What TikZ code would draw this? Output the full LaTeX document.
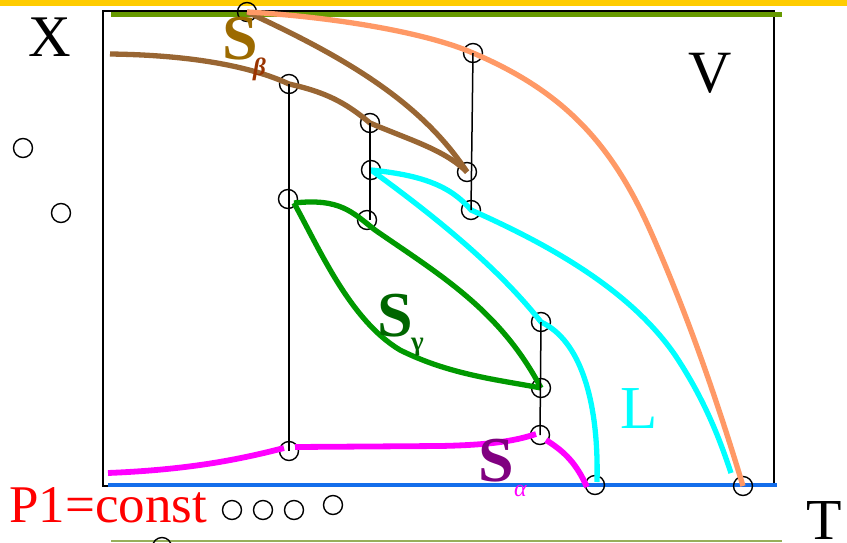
\documentclass[tikz,border=0pt]{standalone}
\usepackage{fontspec}
\setmainfont{Liberation Serif}
\definecolor{topyellow}{RGB}{255,204,0}
\definecolor{olv}{HTML}{669900}
\definecolor{olvlight}{RGB}{150,175,90}
\definecolor{bluel}{RGB}{20,110,235}
\definecolor{brw}{HTML}{996633}
\definecolor{salm}{HTML}{FF9966}
\definecolor{cyn}{HTML}{00FFFF}
\definecolor{grn}{HTML}{009900}
\definecolor{mag}{HTML}{FF00FF}
\definecolor{sbeta}{HTML}{9C6A00}
\definecolor{betac}{HTML}{993300}
\definecolor{sgam}{HTML}{006600}
\definecolor{salph}{HTML}{800080}
\tikzset{
  pt/.style={circle,draw=black,line width=1.4pt,minimum size=19pt,inner sep=0pt},
  thin/.style={draw=black,line width=1.5pt},
  curve/.style={line width=5.3pt},
  lbl/.style={inner sep=0pt,anchor=base west},
}
\newcommand{\fs}[1]{\fontsize{#1}{#1}\selectfont}
\begin{document}
\begin{tikzpicture}[x=1pt,y=-1pt]
\useasboundingbox (0,0) rectangle (847,542);
\fill[fill=topyellow] (0,0) rectangle (847,6);
\draw[line width=1.3pt] (103,11) rectangle (774,486);
\draw[olv,line width=5pt] (111,14) -- (782,14);
\draw[bluel,line width=4.5pt] (108,485) -- (777,485);
\draw[olvlight,line width=1.5pt] (111,541) -- (782,541);
% points
\node[pt] (c1) at (247,12) {};
\node[pt] (c2) at (289,84) {};
\node[pt] (c3) at (370,123) {};
\node[pt] (c4) at (371,170) {};
\node[pt] (c5) at (367,220) {};
\node[pt] (c6) at (288,199) {};
\node[pt] (c7) at (473,53) {};
\node[pt] (c8) at (467,172) {};
\node[pt] (c9) at (471,210) {};
\node[pt] (c10) at (541,322) {};
\node[pt] (c11) at (541,388) {};
\node[pt] (c12) at (540,435) {};
\node[pt] (c13) at (289,451) {};
\node[pt] (c14) at (595,485) {};
\node[pt] (c15) at (743,486) {};
\node[pt] (l1) at (23,148) {};
\node[pt] (l2) at (61,213) {};
\node[pt] (b1) at (232,510) {};
\node[pt] (b2) at (263,510) {};
\node[pt] (b3) at (294,510) {};
\node[pt] (b4) at (333,505) {};
\node[pt] (b5) at (162,547) {};
% curve end coordinates
\coordinate (bL) at (110,54);
\coordinate (gS) at (294,203);
\coordinate (mA) at (108,473);
\coordinate (mB) at (284,448);
\coordinate (mC) at (295,447);
\coordinate (mD) at (536,434);
\coordinate (mE) at (546,440);
\coordinate (mF) at (587,487);
\coordinate (cA) at (731,473);
\coordinate (cB) at (597,482);
% brown
\draw[brw,curve] (bL) .. controls (190,55) and (250,66) .. (c2.center)
  .. controls (325,92) and (345,102) .. (c3.center)
  .. controls (410,140) and (445,150) .. (c8.center);
\draw[brw,curve] (c1.center) .. controls (340,55) and (420,100) .. (c8.center);
% salmon
\draw[salm,curve] (c1.center) .. controls (320,16) and (420,30) .. (c7.center)
  .. controls (560,90) and (610,140) .. (650,230)
  .. controls (690,320) and (720,410) .. (c15.center);
% cyan
\draw[cyn,curve] (c4.center) .. controls (420,175) and (450,185) .. (c9.center)
  .. controls (550,245) and (630,290) .. (675,355)
  .. controls (705,400) and (720,440) .. (cA);
\draw[cyn,curve] (c4.center) .. controls (440,220) and (500,270) .. (c10.center)
  .. controls (580,340) and (599,400) .. (cB);
% green
\draw[grn,curve] (gS) .. controls (340,198) and (352,212) .. (375,230)
  .. controls (440,275) and (500,310) .. (c11.center);
\draw[grn,curve] (gS) .. controls (320,250) and (350,320) .. (400,350)
  .. controls (450,375) and (500,380) .. (c11.center);
% magenta
\draw[mag,line width=5.8pt] (mA) .. controls (180,470) and (230,462) .. (mB);
\draw[mag,line width=5.8pt] (mC) -- (440,446) .. controls (490,445) and (515,441) .. (mD);
\draw[mag,line width=5.8pt] (mE) .. controls (565,452) and (576,463) .. (mF);
% black connectors
\draw[thin] (c2.center) -- (c13.center);
\draw[thin] (c3.center) -- (c3.center |- c5.center);
\draw[thin] (c7.center) -- (c9.center);
\draw[thin] (c10.center) -- (c12.center);
% labels
\node[lbl] (tX) at (28,56) {\fs{59}X};
\node[lbl] (tV) at (688,92) {\fs{60}V};
\node[lbl] (tT) at (806,539) {\fs{58}T};
\node[lbl,text=red] (tP) at (9,522) {\fs{53}P1=const};
\node[lbl,text=cyn] (tL) at (620,428) {\fs{61}L};
\node[lbl,text=sbeta] (sb) at (222,59) {\fs{64}\bfseries S};
\node[lbl,text=betac] (sbs) at (253,75) {\fs{25}\bfseries\itshape β};
\node[lbl,text=sgam] (sg) at (377,336) {\fs{64}\bfseries S};
\node[lbl,text=sgam] (sgs) at (411,350) {\fs{27}\bfseries γ};
\node[lbl,text=salph] (sa) at (478,481) {\fs{64}\bfseries S};
\node[lbl,text=mag] (sas) at (514,496) {\fs{24}\itshape α};
\end{tikzpicture}
\end{document}
